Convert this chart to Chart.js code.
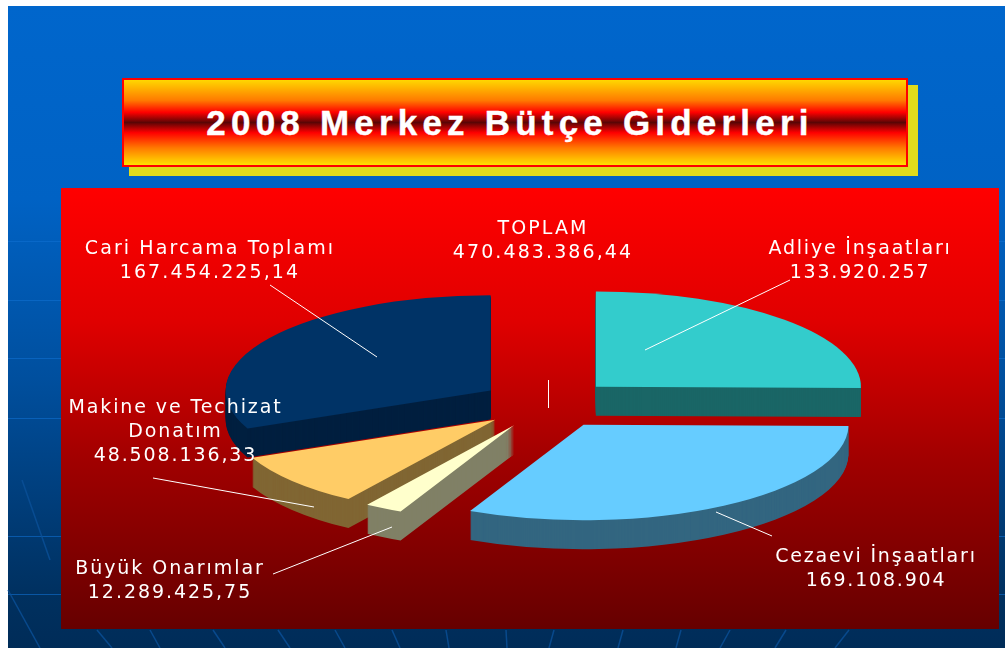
<!DOCTYPE html>
<html lang="tr"><head><meta charset="utf-8">
<script src="https://cdn.jsdelivr.net/npm/chart.js@4"></script>
<style>
html,body{margin:0;padding:0;background:#fff;width:1005px;height:648px;overflow:hidden}
#bg{position:absolute;left:8px;top:6px;width:997px;height:642px;background:linear-gradient(#0066cc 0%,#0062c4 30%,#004f9e 58%,#00305f 92%,#002c58 100%)}
#grid{position:absolute;left:0;top:0}
#shadow{position:absolute;left:129px;top:85px;width:789px;height:91px;background:#e0dc1c}
#title{position:absolute;left:122px;top:78px;width:772px;padding-right:10px;height:85px;border:2px solid #ff0000;
background:linear-gradient(#ffd700 0%,#ff7a00 24%,#ff0000 38%,#5a0505 50%,#ff0000 62%,#ff7a00 80%,#ffe000 100%);
color:#fff;font:bold 35px "Liberation Sans",Arial,sans-serif;letter-spacing:5.2px;-webkit-text-stroke:.4px #fff;text-align:center;line-height:85px;white-space:nowrap}
#panel{position:absolute;left:61px;top:188px;width:938px;height:441px;background:linear-gradient(#ff0000 0%,#e00000 30%,#a00000 62%,#660000 100%)}
canvas#c{position:absolute;left:0;top:0}
.lab{position:absolute;transform:translateX(-50%);color:#fff;font:19px/24px "DejaVu Sans",Verdana,sans-serif;text-align:center;white-space:nowrap}
</style></head><body>
<div id="bg"></div>
<svg id="grid" width="1005" height="648"></svg>
<div id="shadow"></div>
<div id="title">2008 Merkez Bütçe Giderleri</div>
<div id="panel"></div>
<canvas id="c" width="1005" height="648"></canvas>
<div id="labels"></div>
<script>
const categories = ['Adliye İnşaatları','Cezaevi İnşaatları','Büyük Onarımlar','Makine ve Techizat Donatım','Cari Harcama Toplamı'];
const seriesValues = [133920257,169108904,12289425.75,48508136.33,167454225.14];
const valueLabels = ['133.920.257','169.108.904','12.289.425,75','48.508.136,33','167.454.225,14'];
const totalLabel = 'TOPLAM';
const totalValue = '470.483.386,44';
const topColors = ['#33cccc','#66ccff','#ffffcc','#ffcc66','#003366'];
const wallColors = ['#1a6666','#336680','#808066','#806633','#001f3f'];

const TILT = 0.36, DEPTH = 29, EXPLODE = 68;

const labelPlaces = [
  {x:860,y:235,ls:1.8,lines:[categories[0],valueLabels[0]]},
  {x:876,y:543,ls:1.8,lines:[categories[1],valueLabels[1]]},
  {x:170,y:555,ls:1.95,lines:[categories[2],valueLabels[2]]},
  {x:175.5,y:394,ls:1.9,lines:['Makine ve Techizat','Donatım',valueLabels[3]]},
  {x:210,y:235,ls:2.1,lines:[categories[4],valueLabels[4]]},
  {x:543,y:215,ls:2.1,lines:[totalLabel,totalValue]}
];
const labelsEl = document.getElementById('labels');
labelPlaces.forEach(p=>{
  const d=document.createElement('div');d.className='lab';d.style.left=p.x+'px';d.style.top=p.y+'px';d.style.letterSpacing=p.ls+'px';
  p.lines.forEach((t,i)=>{ if(i) d.appendChild(document.createElement('br')); d.appendChild(document.createTextNode(t)); });
  labelsEl.appendChild(d);
});
const leaders = [[790,280,645,350],[716,512,772,536],[273,574,392,527],[153,478,314,507],[270,285,377,357],[548.5,380,548.5,408]];

/* faint slide-background grid */
const svg = document.getElementById('grid');
const gridH = [241,300,358,418,536,594];
const gridFan = [[8,590,40,648],[22,480,50,560],[97,630,112,648],[150,630,160,648],[213,630,225,648],[278,630,290,648],[335,630,345,648],[392,630,400,648],[446,630,449,648],[506,630,507,648],[554,630,549,648],[623,630,618,648],[681,630,676,648],[730,630,720,648],[786,630,775,648],[849,630,835,648]];
let g='';
gridH.forEach(y=>g+=`<line x1="8" y1="${y+.5}" x2="61" y2="${y+.5}" stroke="#0f6fd0" stroke-opacity=".6"/><line x1="999" y1="${y+.5}" x2="1005" y2="${y+.5}" stroke="#0f6fd0" stroke-opacity=".6"/>`);
gridFan.forEach(l=>g+=`<line x1="${l[0]}" y1="${l[1]}" x2="${l[2]}" y2="${l[3]}" stroke="#0a5098" stroke-width="1.5" stroke-opacity=".8"/>`);
svg.innerHTML=g;

const pie3d = {
  id:'pie3d',
  beforeDatasetsDraw(chart){
    const ctx=chart.ctx, arcs=chart.getDatasetMeta(0).data;
    const paint=(arc,color,depth)=>{
      const mid=(arc.startAngle+arc.endAngle)/2;
      const dx=Math.cos(mid)*EXPLODE, dy=Math.sin(mid)*EXPLODE;
      const view=Object.create(arc);
      view.options=Object.assign({},arc.options,{backgroundColor:color,borderWidth:0,offset:0});
      ctx.save();
      ctx.translate(arc.x,arc.y+depth);
      ctx.scale(1,TILT);
      ctx.translate(-arc.x+dx,-arc.y+dy);
      view.draw(ctx);
      ctx.restore();
    };
    for(let d=DEPTH;d>=1;d--) arcs.forEach((a,i)=>paint(a,wallColors[i],d));
    arcs.forEach((a,i)=>paint(a,topColors[i],0));
    return false;
  },
  afterDraw(chart){
    const ctx=chart.ctx;
    ctx.save();ctx.strokeStyle='#ffffff';ctx.lineWidth=1;
    leaders.forEach(l=>{ctx.beginPath();ctx.moveTo(l[0],l[1]);ctx.lineTo(l[2],l[3]);ctx.stroke();});
    ctx.restore();
  }
};
new Chart(document.getElementById('c'),{
  type:'pie',
  data:{labels:categories,datasets:[{data:seriesValues,backgroundColor:topColors,borderWidth:0}]},
  options:{
    responsive:false,animation:false,events:[],radius:265,
    layout:{padding:{left:90,top:160,right:0,bottom:0}},
    plugins:{legend:{display:false},tooltip:{enabled:false},title:{display:false}}
  },
  plugins:[pie3d]
});
</script>
</body></html>
